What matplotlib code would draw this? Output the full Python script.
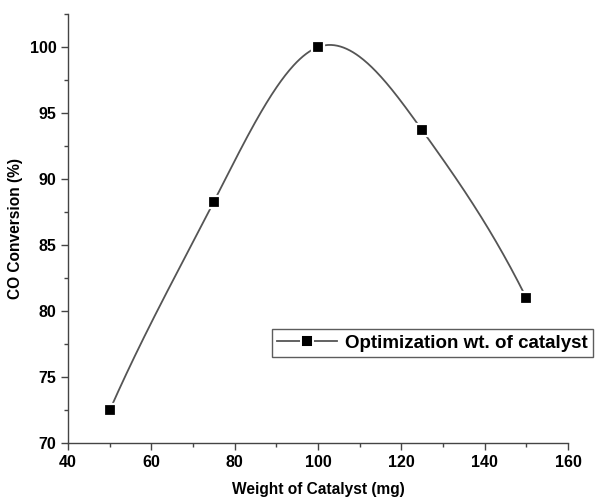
import numpy as np
import matplotlib
matplotlib.use("Agg")
import matplotlib.pyplot as plt
from matplotlib.ticker import MultipleLocator

# Data
weight_mg = [50, 75, 100, 125, 150]
co_conversion = [72.5, 88.3, 100.0, 93.7, 81.0]
series_label = "Optimization wt. of catalyst"
x_label = "Weight of Catalyst (mg)"
y_label = "CO Conversion (%)"


def clamped_spline(x, y, xs):
    """Cubic spline with end slopes from 3-point parabolic estimates."""
    x = np.asarray(x, float)
    y = np.asarray(y, float)
    n = len(x)
    h = np.diff(x)
    d = np.diff(y) / h
    s0 = d[0] + (d[0] - d[1]) * h[0] / (h[0] + h[1])
    sn = d[-1] + (d[-1] - d[-2]) * h[-1] / (h[-1] + h[-2])
    A = np.zeros((n, n))
    b = np.zeros(n)
    for i in range(1, n - 1):
        A[i, i - 1] = h[i - 1]
        A[i, i] = 2 * (h[i - 1] + h[i])
        A[i, i + 1] = h[i]
        b[i] = 3 * (d[i] - d[i - 1])
    A[0, 0] = 2 * h[0]
    A[0, 1] = h[0]
    b[0] = 3 * (d[0] - s0)
    A[-1, -2] = h[-1]
    A[-1, -1] = 2 * h[-1]
    b[-1] = 3 * (sn - d[-1])
    c = np.linalg.solve(A, b)
    out = np.empty_like(xs)
    for k, xv in enumerate(xs):
        i = min(np.searchsorted(x, xv, side="right") - 1, n - 2)
        i = max(i, 0)
        dx = xv - x[i]
        bi = d[i] - h[i] * (2 * c[i] + c[i + 1]) / 3
        di = (c[i + 1] - c[i]) / (3 * h[i])
        out[k] = y[i] + bi * dx + c[i] * dx ** 2 + di * dx ** 3
    return out


plt.rcParams['font.family'] = ['Liberation Sans', 'DejaVu Sans']
plt.rcParams['font.weight'] = 'bold'

fig = plt.figure(figsize=(6.14, 5.03), dpi=100)
ax = fig.add_axes([0.111, 0.119, 0.814, 0.853])

xs = np.linspace(min(weight_mg), max(weight_mg), 400)
ys = clamped_spline(weight_mg, co_conversion, xs)
ax.plot(xs, ys, color='#555555', lw=1.3, zorder=2)
ax.plot(weight_mg, co_conversion, linestyle='none', marker='s',
        markerfacecolor='black', markeredgecolor='white', markeredgewidth=1.6,
        markersize=8.5, zorder=3)

# legend proxy
handle, = ax.plot([], [], color='#555555', lw=1.3, marker='s',
                  markerfacecolor='black', markeredgecolor='white',
                  markeredgewidth=1.4, markersize=8.5)
leg = ax.legend([handle], [series_label], loc='center',
                bbox_to_anchor=(0.704, 0.318), bbox_transform=fig.transFigure,
                frameon=True, fancybox=False, handlelength=3.2,
                prop={'size': 13.5, 'weight': 'bold'}, borderpad=0.3,
                handletextpad=0.4, borderaxespad=0)
leg.get_frame().set_edgecolor('#333333')
leg.get_frame().set_linewidth(1.0)

ax.set_xlim(40, 160)
ax.set_ylim(70, 102.5)
ax.xaxis.set_major_locator(MultipleLocator(20))
ax.xaxis.set_minor_locator(MultipleLocator(10))
ax.yaxis.set_major_locator(MultipleLocator(5))
ax.yaxis.set_minor_locator(MultipleLocator(2.5))

for s in ['top', 'right']:
    ax.spines[s].set_visible(False)
for s in ['left', 'bottom']:
    ax.spines[s].set_color('#444444')
    ax.spines[s].set_linewidth(1.0)

ax.tick_params(which='major', direction='out', length=5, width=1, color='#444444',
               labelsize=11.5)
ax.tick_params(which='minor', direction='out', length=3, width=1, color='#444444')
for lab in ax.get_xticklabels() + ax.get_yticklabels():
    lab.set_fontweight('bold')

ax.set_xlabel(x_label, fontsize=11.2, fontweight='bold', labelpad=9)
ax.set_ylabel(y_label, fontsize=11.2, fontweight='bold', labelpad=5)

fig.savefig('out.png', dpi=100)
